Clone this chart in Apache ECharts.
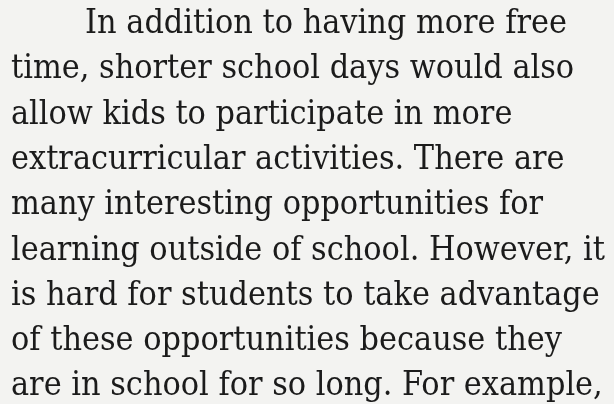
<!DOCTYPE html>
<html><head><meta charset="utf-8">
<script src="https://cdn.jsdelivr.net/npm/echarts@6/dist/echarts.min.js"></script>
<style>html,body{margin:0;padding:0;background:#f3f3f1}#c{width:614px;height:404px}</style>
</head><body><div id="c"></div>
<script>
// Paragraph text, one entry per rendered line
const lines = [
  "In addition to having more free",
  "time, shorter school days would also",
  "allow kids to participate in more",
  "extracurricular activities. There are",
  "many interesting opportunities for",
  "learning outside of school. However, it",
  "is hard for students to take advantage",
  "of these opportunities because they",
  "are in school for so long. For example,"
];
const indentFirst = 74;
const marginLeft = 11;
const firstBaseline = 36;
const lineStep = 45.3;
const fontSize = 33.8;
const baselineToMiddle = 0.346 * fontSize;

const chart = echarts.init(document.getElementById('c'));
chart.setOption({
  backgroundColor: '#f3f3f1',
  graphic: lines.map((t, i) => ({
    type: 'text',
    x: marginLeft + (i === 0 ? indentFirst : 0),
    y: firstBaseline + i * lineStep - baselineToMiddle,
    style: {
      text: t,
      font: fontSize + 'px "DejaVu Serif Condensed"',
      fill: '#1b1b1b',
      verticalAlign: 'middle'
    }
  }))
});
</script></body></html>
